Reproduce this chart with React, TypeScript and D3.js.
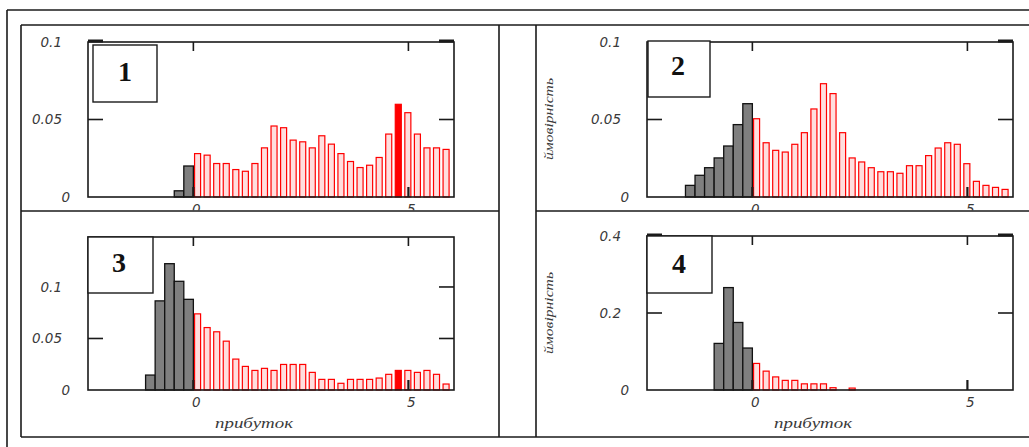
import React from 'react';
import * as d3 from 'd3';

// ---------- data ----------
const BIN = 2 / 9;
const X_DOMAIN: [number, number] = [-2.45, 6.06];
const X_TICKS = [0, 5];
const X_TICK_LABELS = ['0', '5'];
const X_TITLE = 'прибуток';
const Y_TITLE = 'ймовірність';

const p1Gray = [0.004, 0.02];
const p1Red = [0.028, 0.027, 0.0216, 0.0216, 0.0177, 0.0166, 0.0216, 0.0317, 0.0458, 0.0447, 0.0367, 0.0356, 0.0317, 0.0395, 0.0341, 0.028, 0.0229, 0.019, 0.0205, 0.0255, 0.0406, 0.0598, 0.0544, 0.0406, 0.0317, 0.0317, 0.0307];
const p1Ticks = [0, 0.05, 0.1];
const p1TickLabels = ['0', '0.05', '0.1'];

const p2Gray = [0.0075, 0.014, 0.0189, 0.0252, 0.0329, 0.0467, 0.0602];
const p2Red = [0.0505, 0.035, 0.0301, 0.029, 0.034, 0.0415, 0.0568, 0.0731, 0.0667, 0.0415, 0.0252, 0.0226, 0.0189, 0.0163, 0.0163, 0.0153, 0.0202, 0.0202, 0.0267, 0.0316, 0.035, 0.034, 0.0215, 0.0101, 0.0075, 0.0062, 0.0049];
const p2Ticks = [0, 0.05, 0.1];
const p2TickLabels = ['0', '0.05', '0.1'];

const p3Gray = [0.0145, 0.0865, 0.1226, 0.1055, 0.088];
const p3Red = [0.0739, 0.0606, 0.0565, 0.0474, 0.03, 0.0229, 0.019, 0.021, 0.019, 0.0248, 0.0248, 0.0248, 0.0171, 0.0103, 0.0103, 0.0065, 0.0103, 0.0103, 0.0103, 0.0116, 0.0152, 0.019, 0.019, 0.0171, 0.019, 0.0152, 0.0058];
const p3Ticks = [0, 0.05, 0.1];
const p3TickLabels = ['0', '0.05', '0.1'];

const p4Gray = [0.121, 0.266, 0.1754, 0.109];
const p4Red = [0.069, 0.049, 0.034, 0.025, 0.025, 0.016, 0.016, 0.016, 0.006, 0, 0.005];
const p4Ticks = [0, 0.2, 0.4];
const p4TickLabels = ['0', '0.2', '0.4'];

// ---------- layout ----------
type Panel = {
  num: string;
  gray: number[];
  red: number[];
  solid: number[];
  ymax: number;
  yTicks: number[];
  yTickLabels: string[];
  plot: { x: number; y: number; w: number; h: number };
  box: { x: number; y: number; w: number; h: number };
  numPos: { x: number; y: number };
  yTitle?: { x: number; y: number };
  xTitle?: { x: number; y: number };
  clipBottom?: number;
  markLeft: boolean;
  markRight: boolean;
};

const panels: Panel[] = [
  {
    num: '1', gray: p1Gray, red: p1Red, solid: [21], ymax: 0.1, yTicks: p1Ticks, yTickLabels: p1TickLabels,
    plot: { x: 88, y: 42, w: 366, h: 155 }, box: { x: 93, y: 45, w: 64, h: 57 }, numPos: { x: 125, y: 81 },
    clipBottom: 210.5, markLeft: true, markRight: true,
  },
  {
    num: '2', gray: p2Gray, red: p2Red, solid: [], ymax: 0.1, yTicks: p2Ticks, yTickLabels: p2TickLabels,
    plot: { x: 647, y: 42, w: 366, h: 155 }, box: { x: 648, y: 41, w: 62, h: 56 }, numPos: { x: 678, y: 75 },
    yTitle: { x: 553, y: 119 }, clipBottom: 210.5, markLeft: false, markRight: true,
  },
  {
    num: '3', gray: p3Gray, red: p3Red, solid: [21], ymax: 0.1485, yTicks: p3Ticks, yTickLabels: p3TickLabels,
    plot: { x: 88, y: 237, w: 366, h: 153 }, box: { x: 88, y: 237, w: 65, h: 56 }, numPos: { x: 119, y: 272 },
    xTitle: { x: 254, y: 428 }, markLeft: false, markRight: false,
  },
  {
    num: '4', gray: p4Gray, red: p4Red, solid: [], ymax: 0.4, yTicks: p4Ticks, yTickLabels: p4TickLabels,
    plot: { x: 647, y: 236, w: 366, h: 154 }, box: { x: 647, y: 236, w: 65, h: 57 }, numPos: { x: 679, y: 273 },
    yTitle: { x: 553, y: 313 }, xTitle: { x: 813, y: 428 }, markLeft: true, markRight: true,
  },
];

const INK = '#1a1a1a';
const LABEL = '#3a3a3a';

function PanelView({ p, idx }: { p: Panel; idx: number }) {
  const { plot } = p;
  const x = d3.scaleLinear().domain(X_DOMAIN).range([plot.x, plot.x + plot.w]);
  const y = d3.scaleLinear().domain([0, p.ymax]).range([plot.y + plot.h, plot.y]);
  const bottom = plot.y + plot.h;
  const right = plot.x + plot.w;
  const n = p.gray.length;
  const clipId = `clip-${idx}`;
  const redW = (x(BIN) - x(0)) * 0.63;

  return (
    <g>
      {p.clipBottom !== undefined && (
        <clipPath id={clipId}>
          <rect x={0} y={0} width={1029} height={p.clipBottom} />
        </clipPath>
      )}
      {/* gray bars */}
      {p.gray.map((v, j) => {
        const x0 = x(-(n - j) * BIN);
        const x1 = x(-(n - j - 1) * BIN);
        return (
          <rect key={'g' + j} x={x0} y={y(v)} width={x1 - x0} height={bottom - y(v)}
            fill="#7f7f7f" stroke="#111" strokeWidth={1.3} />
        );
      })}
      {/* red bars */}
      {p.red.map((v, j) => {
        if (v <= 0) return null;
        const x0 = x(j * BIN) + 1.2;
        const solid = p.solid.includes(j);
        return (
          <rect key={'r' + j} x={x0} y={y(v)} width={redW} height={bottom - y(v)}
            fill={solid ? '#ff0000' : '#ffdede'} stroke="#ff0000" strokeWidth={1.2} />
        );
      })}
      {/* frame */}
      <rect x={plot.x} y={plot.y} width={plot.w} height={plot.h} fill="none" stroke={INK} strokeWidth={1.6} />
      {/* x ticks */}
      {X_TICKS.map((t) => (
        <g key={'xt' + t}>
          <line x1={x(t)} x2={x(t)} y1={plot.y} y2={plot.y + 9} stroke={INK} strokeWidth={1.6} />
          <line x1={x(t)} x2={x(t)} y1={bottom} y2={bottom - 10} stroke={INK} strokeWidth={2.2} />
        </g>
      ))}
      {/* y ticks */}
      {p.yTicks.map((t) => {
        const isTop = Math.abs(t - p.ymax) < 1e-9;
        if (t === 0) return null;
        return (
          <g key={'yt' + t}>
            {(!isTop || p.markLeft) && (
              <line x1={plot.x} x2={plot.x + 15} y1={y(t) - (isTop ? 1 : 0)} y2={y(t) - (isTop ? 1 : 0)}
                stroke={INK} strokeWidth={isTop ? 3 : 1.6} />
            )}
            {(!isTop || p.markRight) && (
              <line x1={right - 15} x2={right} y1={y(t) - (isTop ? 1 : 0)} y2={y(t) - (isTop ? 1 : 0)}
                stroke={INK} strokeWidth={isTop ? 3 : 1.6} />
            )}
          </g>
        );
      })}
      {/* label box */}
      <rect x={p.box.x} y={p.box.y} width={p.box.w} height={p.box.h} fill="#fff" stroke={INK} strokeWidth={1.4} />
      <text x={p.numPos.x} y={p.numPos.y} textAnchor="middle" fontFamily="'Liberation Serif', serif"
        fontWeight="bold" fontSize={28} fill="#111">{p.num}</text>
      {/* y tick labels */}
      {p.yTicks.map((t, i) => (
        <text key={'yl' + t} x={plot.x - (t === 0 ? 18 : 26)} y={y(t)} dy="0.36em" textAnchor="end"
          fontFamily="'DejaVu Sans', sans-serif" fontStyle="italic" fontSize={13.5} fill={LABEL}>
          {p.yTickLabels[i]}
        </text>
      ))}
      {/* x tick labels */}
      <g clipPath={p.clipBottom !== undefined ? `url(#${clipId})` : undefined}>
        {X_TICKS.map((t, i) => (
          <text key={'xl' + t} x={x(t) + 3} y={bottom + 17} textAnchor="middle"
            fontFamily="'DejaVu Sans', sans-serif" fontStyle="italic" fontSize={13.5} fill={LABEL}>
            {X_TICK_LABELS[i]}
          </text>
        ))}
      </g>
      {p.xTitle && (
        <text x={p.xTitle.x} y={p.xTitle.y} textAnchor="middle" fontFamily="'Liberation Serif', serif"
          fontStyle="italic" fontSize={15} fill={LABEL} textLength={78} lengthAdjust="spacingAndGlyphs">
          {X_TITLE}
        </text>
      )}
      {p.yTitle && (
        <text transform={`translate(${p.yTitle.x},${p.yTitle.y}) rotate(-90)`} textAnchor="middle"
          fontFamily="'Liberation Serif', serif" fontStyle="italic" fontSize={13} fill={LABEL}
          textLength={82} lengthAdjust="spacingAndGlyphs">
          {Y_TITLE}
        </text>
      )}
    </g>
  );
}

export default function App() {
  const W = 1029;
  const H = 447;
  return (
    <svg width={W} height={H} style={{ position: 'absolute', left: 0, top: 0, background: '#fff' }}>
      <rect x={0} y={0} width={W} height={H} fill="#fff" />
      {/* outer frame */}
      <line x1={7} x2={W} y1={10} y2={10} stroke={INK} strokeWidth={1.6} />
      <line x1={7} x2={7} y1={10} y2={H} stroke={INK} strokeWidth={1.6} />
      {/* table */}
      <line x1={21} x2={W} y1={25} y2={25} stroke={INK} strokeWidth={1.6} />
      <line x1={21} x2={21} y1={25} y2={437} stroke={INK} strokeWidth={1.6} />
      <line x1={499} x2={499} y1={25} y2={437} stroke={INK} strokeWidth={1.6} />
      <line x1={536} x2={536} y1={25} y2={437} stroke={INK} strokeWidth={1.6} />
      <line x1={21} x2={499} y1={211} y2={211} stroke={INK} strokeWidth={1.6} />
      <line x1={536} x2={W} y1={211} y2={211} stroke={INK} strokeWidth={1.6} />
      <line x1={21} x2={W} y1={437} y2={437} stroke={INK} strokeWidth={1.6} />
      {panels.map((p, i) => (
        <PanelView key={p.num} p={p} idx={i} />
      ))}
    </svg>
  );
}
